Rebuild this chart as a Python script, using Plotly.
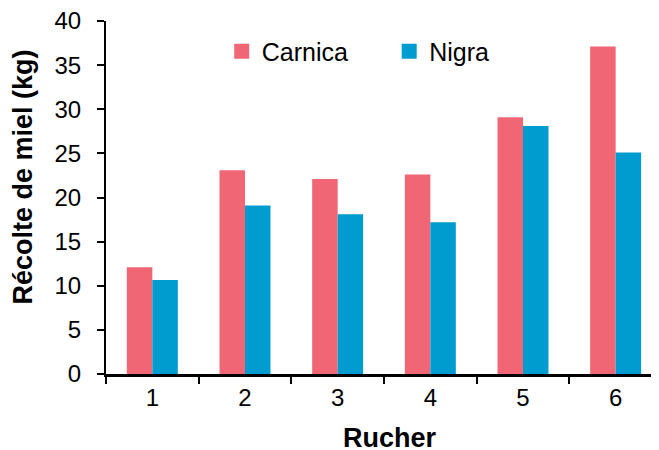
import plotly.graph_objects as go

rucher = ["1", "2", "3", "4", "5", "6"]
carnica = [12.1, 23.1, 22.1, 22.6, 29.1, 37.1]
nigra = [10.65, 19.1, 18.1, 17.2, 28.1, 25.1]
y_ticks = [0, 5, 10, 15, 20, 25, 30, 35, 40]

PINK = "#F06674"
BLUE = "#009BCF"
FONT = "Liberation Sans, Arial, sans-serif"

fig = go.Figure()
fig.add_trace(go.Bar(x=rucher, y=carnica, name="Carnica", marker=dict(color=PINK, line=dict(width=0)), showlegend=False))
fig.add_trace(go.Bar(x=rucher, y=nigra, name="Nigra", marker=dict(color=BLUE, line=dict(width=0)), showlegend=False))
# legend proxies (larger square symbols)
fig.add_trace(go.Scatter(x=[None], y=[None], mode="markers", name="Carnica",
                         marker=dict(symbol="square", size=15, color=PINK)))
fig.add_trace(go.Scatter(x=[None], y=[None], mode="markers", name="Nigra",
                         marker=dict(symbol="square", size=15, color=BLUE)))

OFF = 8  # page body margin
W, H = 659, 450
L = 106 - OFF
T = 21 - OFF
R = W - (662 - OFF)
B = H - (374 - OFF)
pw, ph = W - L - R, H - T - B


def px_x(x):
    return (x - OFF - L) / pw


def px_y(y):
    return 1 - (y - OFF - T) / ph


fig.update_layout(
    width=W, height=H,
    margin=dict(l=L, r=R, t=T, b=B, pad=0, autoexpand=False),
    paper_bgcolor="white", plot_bgcolor="white",
    font=dict(family=FONT, color="black", size=24),
    barmode="group", bargap=0.45, bargroupgap=0,
    showlegend=True,
    legend=dict(orientation="h", x=px_x(221.7), xanchor="left",
                y=px_y(51.5), yanchor="middle",
                font=dict(size=25, family=FONT), bgcolor="rgba(0,0,0,0)",
                entrywidth=122.5, entrywidthmode="pixels", itemsizing="trace"),
    xaxis=dict(type="category", range=[-0.5, 5.5], showline=True, linecolor="black", linewidth=2.5,
               ticks="outside", tickson="boundaries", ticklen=7, tickwidth=2, tickcolor="black",
               showgrid=False, zeroline=False, tickfont=dict(size=24), ticklabeloverflow="allow",
               automargin=False),
    yaxis=dict(range=[0, 40], tickvals=y_ticks, showline=True, linecolor="black", linewidth=2,
               ticks="outside", ticklen=7, tickwidth=2, tickcolor="black",
               showgrid=False, zeroline=False, tickfont=dict(size=24),
               ticklabeloverflow="allow", ticklabelstandoff=11, automargin=False),
    annotations=[
        dict(text="<b>Récolte de miel (kg)</b>", textangle=-90, xref="paper", yref="paper",
             x=px_x(22), y=px_y(177.5), xanchor="center", yanchor="middle",
             showarrow=False, font=dict(size=27, family=FONT)),
        dict(text="<b>Rucher</b>", xref="paper", yref="paper",
             x=px_x(390), y=px_y(438), xanchor="center", yanchor="middle",
             showarrow=False, font=dict(size=27, family=FONT)),
    ],
)

fig.write_html("out.html")
